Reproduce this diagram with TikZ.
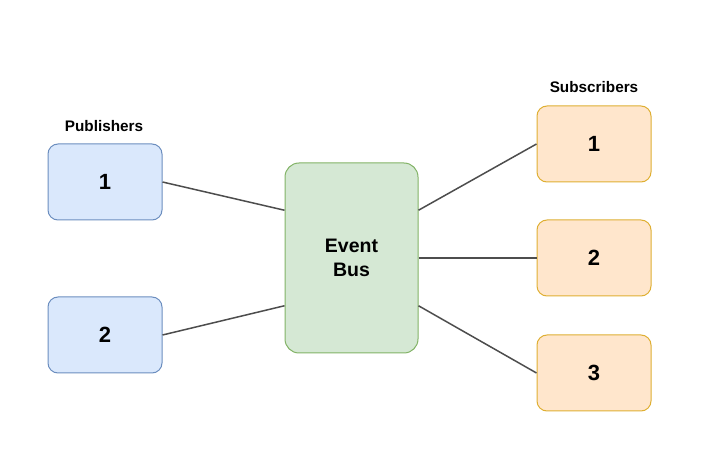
\documentclass[tikz,border=0pt]{standalone}
\usepackage{fontspec}
\setmainfont{Liberation Sans}
\usetikzlibrary{calc}
\definecolor{pubfill}{HTML}{DAE8FC}
\definecolor{publine}{HTML}{6C8EBF}
\definecolor{busfill}{HTML}{D5E8D4}
\definecolor{busline}{HTML}{82B366}
\definecolor{subfill}{HTML}{FFE6CC}
\definecolor{subline}{HTML}{D79B00}
\definecolor{conn}{HTML}{4D4D4D}
\tikzset{
  box/.style={draw, rounded corners=10pt, line width=1pt, minimum width=114pt, minimum height=76pt, inner sep=0pt, font=\bfseries\fontsize{22}{24}\selectfont},
  pubbox/.style={box, fill=pubfill, draw=publine},
  subbox/.style={box, fill=subfill, draw=subline!80},
  busbox/.style={draw=busline, fill=busfill, rounded corners=14pt, line width=1pt, minimum width=133pt, minimum height=190pt, inner sep=0pt, align=center, font=\bfseries\fontsize{19.5}{23.5}\selectfont},
  grouplabel/.style={font=\bfseries\fontsize{15.3}{18}\selectfont},
  link/.style={draw=conn, line width=1.5pt}
}
\begin{document}
\begin{tikzpicture}[x=1pt,y=-1pt]
\useasboundingbox (0,0) rectangle (716,473);
\node[pubbox] (p1) at (105,182) {1};
\node[pubbox] (p2) at (105,335) {2};
\node[busbox] (bus) at (351.5,258) {Event\\Bus};
\node[subbox] (s1) at (594,144) {1};
\node[subbox] (s2) at (594,258) {2};
\node[subbox] (s3) at (594,373) {3};
\node[grouplabel] (pl) at (104,126) {Publishers};
\node[grouplabel] (sl) at (594,87) {Subscribers};
\coordinate (bw1) at ($(bus.north west)!0.25!(bus.south west)$);
\coordinate (bw2) at ($(bus.north west)!0.75!(bus.south west)$);
\coordinate (be1) at ($(bus.north east)!0.25!(bus.south east)$);
\coordinate (be2) at ($(bus.north east)!0.75!(bus.south east)$);
\draw[link] (p1.east) -- (bw1);
\draw[link] (p2.east) -- (bw2);
\draw[link] (be1) -- (s1.west);
\draw[link] (bus.east) -- (s2.west);
\draw[link] (be2) -- (s3.west);
\end{tikzpicture}
\end{document}
